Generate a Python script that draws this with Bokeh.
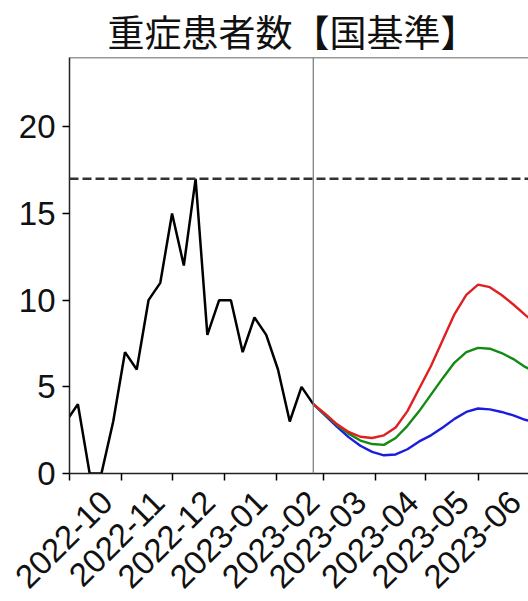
from math import pi
import pandas as pd
from bokeh.plotting import figure
from bokeh.models import (Range1d, Span, SingleIntervalTicker, FixedTicker,
                          CustomJSTickFormatter, DatetimeAxis, DatetimeTickFormatter)
from bokeh.embed import file_html
from bokeh.resources import INLINE

# ---------------- data ----------------
title_text = "重症患者数【国基準】"

obs_dates = ["2022-09-29", "2022-10-06", "2022-10-13", "2022-10-20", "2022-10-27",
             "2022-11-03", "2022-11-10", "2022-11-17", "2022-11-24", "2022-12-01",
             "2022-12-08", "2022-12-15", "2022-12-22", "2022-12-29", "2023-01-05",
             "2023-01-12", "2023-01-19", "2023-01-26", "2023-02-02", "2023-02-09",
             "2023-02-16", "2023-02-23"]
obs_values = [3, 4, 0, 0, 3, 7, 6, 10, 11, 15, 12, 17, 8, 10, 10, 7, 9, 8, 6, 3, 5, 4]

proj_dates = ["2023-02-23", "2023-03-02", "2023-03-09", "2023-03-16", "2023-03-23",
              "2023-03-30", "2023-04-06", "2023-04-13", "2023-04-20", "2023-04-27",
              "2023-05-04", "2023-05-11", "2023-05-18", "2023-05-25", "2023-06-01",
              "2023-06-08", "2023-06-15", "2023-06-22", "2023-06-29", "2023-07-06"]
proj_high = [4.0, 3.45, 2.85, 2.4, 2.12, 2.05, 2.2, 2.65, 3.6, 4.9,
             6.2, 7.7, 9.2, 10.3, 10.9, 10.75, 10.3, 9.75, 9.15, 8.6]
proj_mid = [4.0, 3.4, 2.8, 2.3, 1.9, 1.7, 1.65, 2.05, 2.75, 3.6,
            4.55, 5.5, 6.4, 7.0, 7.25, 7.2, 6.95, 6.6, 6.15, 5.8]
proj_low = [4.0, 3.35, 2.7, 2.1, 1.6, 1.25, 1.05, 1.1, 1.4, 1.85,
            2.2, 2.65, 3.15, 3.55, 3.75, 3.7, 3.55, 3.35, 3.1, 2.9]

threshold = 17
last_obs_date = "2023-02-23"
x_start, x_end = "2022-10-01", "2023-07-01"
y_min, y_max = 0, 24
y_tick_step = 5
month_labels = ["2022-10", "2022-11", "2022-12", "2023-01", "2023-02",
                "2023-03", "2023-04", "2023-05", "2023-06"]

# ---------------- figure ----------------
TFONT = "Noto Sans CJK JP"
FONT = "Liberation Sans"
TICK_SIZE = "33px"
to_dt = lambda s: pd.to_datetime(s)
to_ms = lambda t: t.timestamp() * 1000.0

p = figure(width=528, height=601, x_axis_type="datetime",
           x_range=Range1d(to_dt(x_start), to_dt(x_end)),
           y_range=Range1d(y_min, y_max),
           output_backend="svg", toolbar_location=None,
           min_border_left=69, min_border_right=0, min_border_top=57,
           min_border_bottom=128)

p.title.text = title_text
p.title.text_font = TFONT
p.title.text_font_size = "37px"
p.title.text_font_style = "normal"
p.title.align = "left"
p.title.offset = 38
p.title.standoff = 0
p.title.text_color = "#111111"

p.xgrid.visible = False
p.ygrid.visible = False
p.outline_line_color = None
p.background_fill_color = "white"
p.border_fill_color = "white"

# y axis
p.yaxis.ticker = SingleIntervalTicker(interval=y_tick_step, num_minor_ticks=0)
p.yaxis.major_label_text_font = FONT
p.yaxis.major_label_text_font_size = TICK_SIZE
p.yaxis.major_label_text_color = "#111111"
p.yaxis.major_tick_out = 7
p.yaxis.major_tick_in = 0
p.yaxis.minor_tick_out = 0
p.yaxis.minor_tick_in = 0
p.yaxis.major_label_standoff = 7
p.yaxis.axis_line_width = 1.5
p.yaxis.axis_line_color = "#222222"
p.yaxis.major_tick_line_width = 1.5

# x axis: ticks at month starts
month_ticks = [to_ms(to_dt(m + "-01")) for m in month_labels]
p.xaxis.ticker = FixedTicker(ticks=month_ticks)
p.xaxis.formatter = CustomJSTickFormatter(code="return ''")
p.xaxis.major_label_text_font_size = "1px"
p.xaxis.major_label_standoff = 0
p.xaxis.major_tick_out = 7
p.xaxis.major_tick_in = 0
p.xaxis.minor_tick_out = 0
p.xaxis.minor_tick_in = 0
p.xaxis.axis_line_width = 1.5
p.xaxis.axis_line_color = "#222222"
p.xaxis.major_tick_line_width = 1.5

# second axis carrying the rotated month labels, centred under each tick
label_shift_days = 22
lab_axis = DatetimeAxis(
    ticker=FixedTicker(ticks=[t + label_shift_days * 86400000.0 for t in month_ticks]),
    formatter=DatetimeTickFormatter(days="%Y-%m", months="%Y-%m", years="%Y-%m",
                                    hours="%Y-%m", minutes="%Y-%m"),
    major_label_orientation=pi / 4,
    major_label_text_font=FONT, major_label_text_font_size=TICK_SIZE,
    major_label_text_color="#111111", major_label_standoff=16,
    axis_line_color=None, major_tick_line_color=None, minor_tick_line_color=None,
    major_tick_out=0, major_tick_in=0, minor_tick_out=0, minor_tick_in=0)
p.add_layout(lab_axis, "below")

# top frame line
p.add_layout(Span(location=y_max, dimension="width",
                  line_color="#333333", line_width=1.5))

# reference lines
p.add_layout(Span(location=to_dt(last_obs_date), dimension="height",
                  line_color="#808080", line_width=1.3))
p.add_layout(Span(location=threshold, dimension="width",
                  line_color="#333333", line_width=2.5, line_dash="9 4"))

# data lines
px = [to_dt(d) for d in proj_dates]
p.line(px, proj_low, line_color="#1c1ce0", line_width=2.4)
p.line(px, proj_mid, line_color="#138a13", line_width=2.4)
p.line(px, proj_high, line_color="#e02020", line_width=2.4)
p.line([to_dt(d) for d in obs_dates], obs_values, line_color="black", line_width=2.5)

open("out.html", "w").write(file_html(p, INLINE))
